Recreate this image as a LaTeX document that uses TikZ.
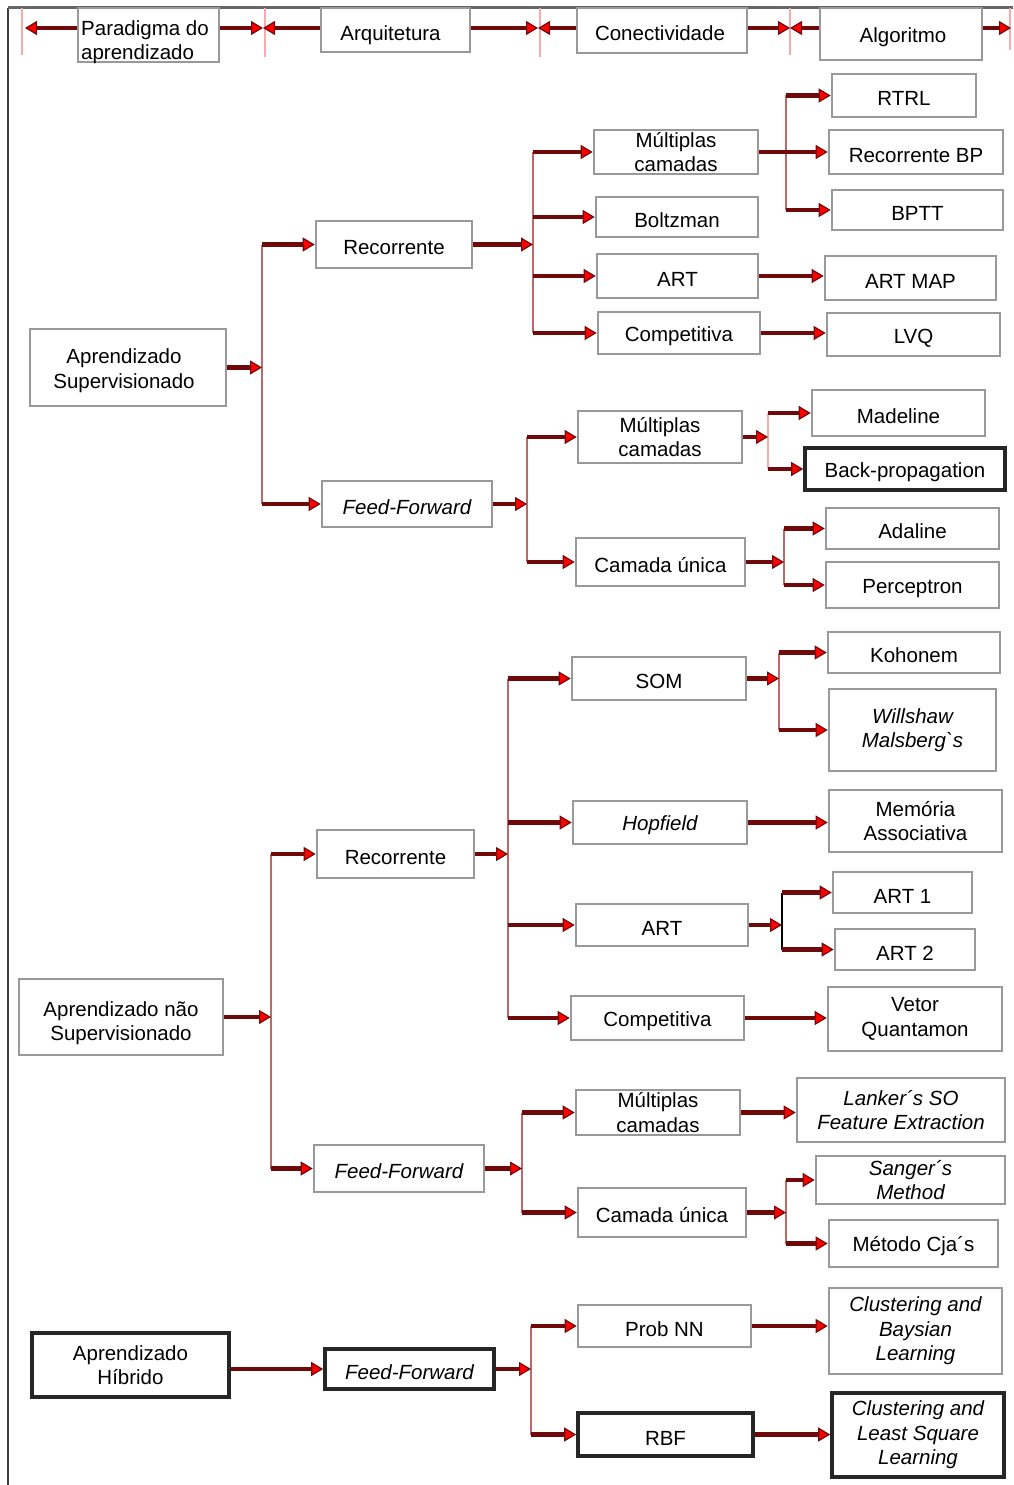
\documentclass[tikz,border=0pt]{standalone}
\usepackage{fontspec}
\setmainfont{Liberation Sans}
\usetikzlibrary{arrows.meta}
\definecolor{dred}{RGB}{112,10,10}
\definecolor{busred}{RGB}{190,105,105}
\definecolor{tickpink}{RGB}{250,170,170}
\tikzset{
  box/.style={draw=black!40, line width=2.6pt, fill=white, inner sep=0pt, align=center,
    font=\fontsize{20.5}{24.5}\selectfont,
    execute at begin node={\rule{0pt}{21pt}}},
  tbox/.style={box, draw=black!85, line width=3.6pt},
  it/.style={font=\fontsize{20.5}{24.5}\selectfont\itshape},
  txt/.style={inner sep=0pt, align=left, font=\fontsize{20.5}{24.5}\selectfont},
  txtc/.style={txt, align=center},
  arr/.style={draw=dred, line width=4.4pt,
    -{Triangle[length=12pt,width=14pt,fill=red,line width=1.2pt]}},
  harr/.style={arr, line width=3.4pt},
  bus/.style={draw=busred, line width=2.2pt},
  kbus/.style={draw=black, line width=1.4pt},
  tick/.style={draw=tickpink, line width=1.6pt},
}
\begin{document}
\begin{tikzpicture}[x=1pt,y=-1pt]
\useasboundingbox (0,0) rectangle (1013,1485);
% frame lines
\draw[black!75, line width=2pt] (8,8) -- (8,1485);
\draw[black!60, line width=3pt] (8,8) -- (1013,8);

% ---------- header ----------
\coordinate (t0) at (25,28);
\coordinate (t1) at (263,28);
\coordinate (t2) at (538,28);
\coordinate (t3) at (790,28);
\coordinate (t4) at (1011,28);
\draw[tick] (22,8) -- (22,55);
\draw[tick] (265,8) -- (265,57);
\draw[tick] (540,8) -- (540,57);
\draw[tick] (790,8) -- (790,55);
\draw[tick] (1010,8) -- (1010,50);
\node[box, minimum width=141, minimum height=54] (par) at (148.5,35) {};
\node[box, minimum width=149, minimum height=44] (arq) at (395.5,30) {};
\node[box, minimum width=170, minimum height=45] (con) at (662,30.5) {};
\node[box, minimum width=162, minimum height=52] (alg) at (901,34) {};
\node[txt, anchor=west] (part) at (81,42) {Paradigma do\\aprendizado};
\node[txt] (arqt) at (390.5,35) {Arquitetura};
\node[txt] (cont) at (660,33.5) {Conectividade};
\node[txt] (algt) at (903,37.5) {Algoritmo};
\draw[arr] (par.west |- t0) -- (t0);
\draw[arr] (par.east |- t1) -- (t1);
\draw[arr] (arq.west |- t1) -- (t1);
\draw[arr] (arq.east |- t2) -- (t2);
\draw[arr] (con.west |- t2) -- (t2);
\draw[arr] (con.east |- t3) -- (t3);
\draw[arr] (alg.west |- t3) -- (t3);
\draw[arr] (alg.east |- t4) -- (t4);

% ---------- Supervisionado ----------
\node[box, minimum width=196, minimum height=77] (sup) at (128,367.5) {};
\node[txtc] (supt) at (124,370.5) {Aprendizado\\Supervisionado};
\node[box, minimum width=156, minimum height=47] (rec1) at (394,244.5) {Recorrente};
\node[box, it, minimum width=170, minimum height=46] (ff1) at (407,504) {Feed-Forward};
\node[box, minimum width=164, minimum height=44] (mc1) at (676,152) {Múltiplas\\camadas};
\node[box, minimum width=162, minimum height=40] (bol) at (677,217) {Boltzman};
\node[box, minimum width=161, minimum height=44] (art1) at (677.5,276) {ART};
\node[box, minimum width=162, minimum height=42] (comp1) at (679,333) {Competitiva};
\node[box, minimum width=144, minimum height=43] (rtrl) at (904,95.5) {RTRL};
\node[box, minimum width=174, minimum height=44] (rbp) at (916,152) {Recorrente BP};
\node[box, minimum width=171, minimum height=40] (bptt) at (917.5,210) {BPTT};
\node[box, minimum width=171, minimum height=44] (artmap) at (910.5,278) {ART MAP};
\node[box, minimum width=173, minimum height=43] (lvq) at (913.5,334.5) {LVQ};
\node[box, minimum width=164, minimum height=52] (mc2) at (660,437) {Múltiplas\\camadas};
\node[box, minimum width=169, minimum height=48] (cu1) at (660.5,562) {Camada única};
\node[box, minimum width=173, minimum height=46] (mad) at (898.5,413) {Madeline};
\node[tbox, minimum width=200, minimum height=42] (bp) at (905,469) {Back-propagation};
\node[box, minimum width=173, minimum height=41] (ada) at (912.5,528.5) {Adaline};
\node[box, minimum width=173, minimum height=46] (per) at (912.5,585) {Perceptron};

\coordinate (b1) at (262,0);
\coordinate (b2) at (533,0);
\coordinate (b3) at (786,0);
\coordinate (b4) at (527,0);
\coordinate (b5) at (768,0);
\coordinate (b6) at (784,0);

\draw[bus] (b1 |- rec1.west) -- (b1 |- ff1.west);
\draw[arr] (sup.east) -- (sup.east -| b1);
\draw[arr] (b1 |- rec1.west) -- (rec1.west);
\draw[arr] (b1 |- ff1.west) -- (ff1.west);

\draw[bus] (b2 |- mc1.west) -- (b2 |- comp1.west);
\draw[arr] (rec1.east) -- (rec1.east -| b2);
\draw[arr] (b2 |- mc1.west) -- (mc1.west);
\draw[arr] (b2 |- bol.west) -- (bol.west);
\draw[arr] (b2 |- art1.west) -- (art1.west);
\draw[arr] (b2 |- comp1.west) -- (comp1.west);

\draw[bus] (b3 |- rtrl.west) -- (b3 |- bptt.west);
\draw[dred, line width=4.4pt] (mc1.east) -- (mc1.east -| b3);
\draw[arr] (b3 |- rtrl.west) -- (rtrl.west);
\draw[arr] (b3 |- rbp.west) -- (rbp.west);
\draw[arr] (b3 |- bptt.west) -- (bptt.west);

\draw[arr] (art1.east) -- (art1.east -| artmap.west);
\draw[arr] (comp1.east) -- (comp1.east -| lvq.west);

\draw[bus] (b4 |- mc2.west) -- (b4 |- cu1.west);
\draw[arr] (ff1.east) -- (ff1.east -| b4);
\draw[arr] (b4 |- mc2.west) -- (mc2.west);
\draw[arr] (b4 |- cu1.west) -- (cu1.west);

\draw[bus, draw=tickpink] (b5 |- mad.west) -- (b5 |- bp.west);
\draw[arr] (mc2.east) -- (mc2.east -| b5);
\draw[arr] (b5 |- mad.west) -- (mad.west);
\draw[arr] (b5 |- bp.west) -- (bp.west);

\draw[bus] (b6 |- ada.west) -- (b6 |- per.west);
\draw[arr] (cu1.east) -- (cu1.east -| b6);
\draw[arr] (b6 |- ada.west) -- (ada.west);
\draw[arr] (b6 |- per.west) -- (per.west);

% ---------- nao Supervisionado ----------
\node[box, minimum width=204, minimum height=76] (nsup) at (121,1017) {};
\node[txtc] (nsupt) at (121,1023) {Aprendizado não\\Supervisionado};
\node[box, minimum width=157, minimum height=48] (rec2) at (395.5,854) {Recorrente};
\node[box, it, minimum width=170, minimum height=47] (ff2) at (399,1168.5) {Feed-Forward};
\node[box, minimum width=174, minimum height=43] (som) at (659,678.5) {SOM};
\node[box, it, minimum width=174, minimum height=43] (hop) at (660,822.5) {Hopfield};
\node[box, minimum width=172, minimum height=42] (art2) at (662,925) {ART};
\node[box, minimum width=173, minimum height=44] (comp2) at (657.5,1018) {Competitiva};
\node[box, minimum width=172, minimum height=41] (koh) at (914,652.5) {Kohonem};
\node[box, it, minimum width=167, minimum height=82] (will) at (912.5,730) {Willshaw\\Malsberg\textasciigrave s};
\node[box, minimum width=173, minimum height=62] (mem) at (915.5,821) {Memória\\Associativa};
\node[box, minimum width=139, minimum height=41] (a1) at (902.5,892.5) {ART 1};
\node[box, minimum width=140, minimum height=41] (a2) at (905,949.5) {ART 2};
\node[box, minimum width=174, minimum height=64] (vq) at (915,1019) {Vetor\\Quantamon};
\node[box, minimum width=164, minimum height=45] (mc3) at (658,1112.5) {Múltiplas\\camadas};
\node[box, minimum width=168, minimum height=49] (cu2) at (662,1212.5) {Camada única};
\node[box, it, minimum width=208, minimum height=64] (lank) at (901,1110) {Lanker´s SO\\Feature Extraction};
\node[box, it, minimum width=189, minimum height=48] (sang) at (910.5,1180) {Sanger´s\\Method};
\node[box, minimum width=169, minimum height=47] (cja) at (913.5,1243.5) {Método Cja´s};

\coordinate (b7) at (271,0);
\coordinate (b8) at (508,0);
\coordinate (b9) at (779,0);
\coordinate (b10) at (782,0);
\coordinate (b11) at (522,0);
\coordinate (b12) at (786,0);

\draw[bus] (b7 |- rec2.west) -- (b7 |- ff2.west);
\draw[arr] (nsup.east) -- (nsup.east -| b7);
\draw[arr] (b7 |- rec2.west) -- (rec2.west);
\draw[arr] (b7 |- ff2.west) -- (ff2.west);

\draw[bus] (b8 |- som.west) -- (b8 |- comp2.west);
\draw[arr] (rec2.east) -- (rec2.east -| b8);
\draw[arr] (b8 |- som.west) -- (som.west);
\draw[arr] (b8 |- hop.west) -- (hop.west);
\draw[arr] (b8 |- art2.west) -- (art2.west);
\draw[arr] (b8 |- comp2.west) -- (comp2.west);

\draw[bus] (b9 |- koh.west) -- (b9 |- will.west);
\draw[arr] (som.east) -- (som.east -| b9);
\draw[arr] (b9 |- koh.west) -- (koh.west);
\draw[arr] (b9 |- will.west) -- (will.west);

\draw[arr] (hop.east) -- (hop.east -| mem.west);

\draw[kbus] (b10 |- a1.west) -- (b10 |- a2.west);
\draw[arr] (art2.east) -- (art2.east -| b10);
\draw[arr] (b10 |- a1.west) -- (a1.west);
\draw[arr] (b10 |- a2.west) -- (a2.west);

\draw[arr] (comp2.east) -- (comp2.east -| vq.west);

\draw[bus] (b11 |- mc3.west) -- (b11 |- cu2.west);
\draw[arr] (ff2.east) -- (ff2.east -| b11);
\draw[arr] (b11 |- mc3.west) -- (mc3.west);
\draw[arr] (b11 |- cu2.west) -- (cu2.west);

\draw[arr] (mc3.east) -- (mc3.east -| lank.west);

\draw[bus] (b12 |- sang.west) -- (b12 |- cja.west);
\draw[arr] (cu2.east) -- (cu2.east -| b12);
\draw[arr] (b12 |- sang.west) -- (sang.west);
\draw[arr] (b12 |- cja.west) -- (cja.west);

% ---------- Hibrido ----------
\node[tbox, minimum width=197, minimum height=64] (hib) at (130.5,1365) {Aprendizado\\Híbrido};
\node[tbox, it, minimum width=169, minimum height=40] (ff3) at (409.5,1369) {Feed-Forward};
\node[box, minimum width=173, minimum height=42] (pnn) at (664.5,1326) {Prob NN};
\node[tbox, minimum width=175, minimum height=43] (rbf) at (665.5,1434.5) {RBF};
\node[box, it, minimum width=173, minimum height=86] (cbl) at (915.5,1331) {Clustering and\\Baysian\\Learning};
\node[tbox, it, minimum width=172, minimum height=84] (clsl) at (918,1435) {Clustering and\\Least Square\\Learning};

\coordinate (b13) at (531,0);
\draw[harr] (hib.east |- ff3.west) -- (ff3.west);
\draw[bus] (b13 |- pnn.west) -- (b13 |- rbf.west);
\draw[arr] (ff3.east) -- (ff3.east -| b13);
\draw[arr] (b13 |- pnn.west) -- (pnn.west);
\draw[arr] (b13 |- rbf.west) -- (rbf.west);
\draw[arr] (pnn.east) -- (pnn.east -| cbl.west);
\draw[arr] (rbf.east) -- (rbf.east -| clsl.west);
\end{tikzpicture}
\end{document}
